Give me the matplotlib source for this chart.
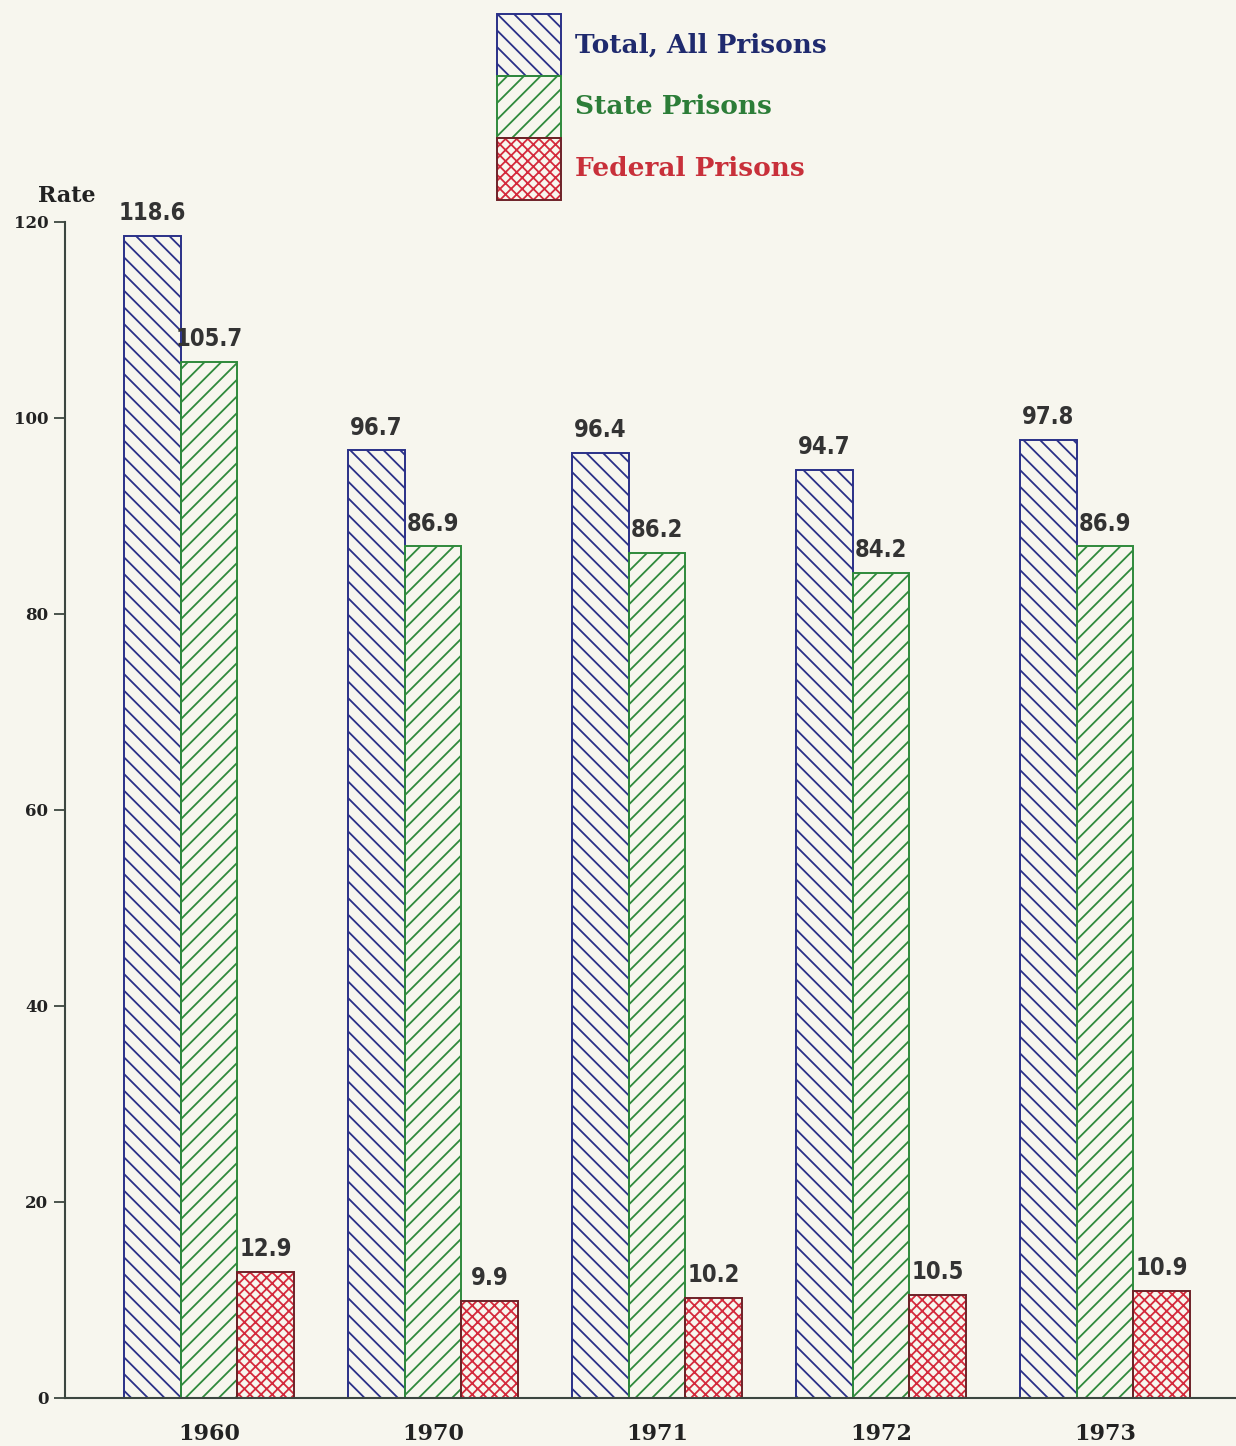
import matplotlib

matplotlib.use("Agg")
import matplotlib.pyplot as plt
from matplotlib.patches import Rectangle
import numpy as np

years = ["1960", "1970", "1971", "1972", "1973"]
total_all = [118.6, 96.7, 96.4, 94.7, 97.8]
state = [105.7, 86.9, 86.2, 84.2, 86.9]
federal = [12.9, 9.9, 10.2, 10.5, 10.9]
yticks = [0, 20, 40, 60, 80, 100, 120]

BG = "#f7f6ee"
BLUE = "#2a3088"
GREEN = "#2f8a3c"
RED = "#d42a3c"
RED_EDGE = "#6e2228"
AXIS = "#3c4640"
LABEL = "#333333"
SERIF = ["DejaVu Serif"]
NARROW = ["DejaVu Sans"]

plt.rcParams["hatch.linewidth"] = 1.3

fig = plt.figure(figsize=(12.36, 14.46), dpi=100, facecolor=BG)
ax = fig.add_axes([65 / 1236, 48 / 1446, 1 - 65 / 1236, (1398 - 222) / 1446])
ax.set_facecolor(BG)

x = np.arange(len(years))
w = 0.254
series = [
    (total_all, -w, BLUE, BLUE, "\\\\"),
    (state, 0, GREEN, GREEN, "//"),
    (federal, w, RED, RED_EDGE, "xxx"),
]
for vals, off, col, edge, hatch in series:
    ax.bar(x + off, vals, w, color="none", edgecolor=col, hatch=hatch, linewidth=0)
    ax.bar(x + off, vals, w, color="none", edgecolor=edge, linewidth=1.4)
    for xi, v in zip(x + off, vals):
        ax.text(xi, v + 1.1, f"{v}", ha="center", va="bottom", fontsize=17,
                family=NARROW, fontstretch="condensed", fontweight="semibold",
                color=LABEL)

ax.set_xlim(-0.643, 4.585)
ax.set_ylim(0, 120)
ax.set_yticks(yticks)
ax.set_yticklabels([str(t) for t in yticks], family=SERIF, fontweight="bold",
                   fontsize=12, color="#222222")
ax.set_xticks(x)
ax.set_xticklabels(years, family=SERIF, fontweight="bold", fontsize=16, color="#222222")
ax.tick_params(axis="x", length=0, pad=18)
ax.tick_params(axis="y", length=8, width=1.3, color=AXIS, pad=4)
for s in ("top", "right"):
    ax.spines[s].set_visible(False)
for s in ("left", "bottom"):
    ax.spines[s].set_color(AXIS)
    ax.spines[s].set_linewidth(1.5)

fig.text(38 / 1236, 1 - 196 / 1446, "Rate", family=SERIF, fontweight="bold",
         fontsize=16, color="#222222", va="center", ha="left")

# legend: stacked swatches
legend = [
    ("Total, All Prisons", BLUE, BLUE, "\\\\", "#1f2a6e"),
    ("State Prisons", GREEN, GREEN, "//", "#2c7d38"),
    ("Federal Prisons", RED, RED_EDGE, "xxx", "#c8303a"),
]
sx, sw, sh = 497 / 1236, 64 / 1236, 62 / 1446
for i, (name, col, edge, hatch, tcol) in enumerate(legend):
    top = 14 + 62 * i
    y0 = 1 - (top + 62) / 1446
    fig.patches.append(Rectangle((sx, y0), sw, sh, transform=fig.transFigure,
                                 facecolor="none", edgecolor=col, hatch=hatch,
                                 linewidth=0))
    fig.patches.append(Rectangle((sx, y0), sw, sh, transform=fig.transFigure,
                                 facecolor="none", edgecolor=edge, linewidth=1.4))
    fig.text(575 / 1236, y0 + sh / 2, name, family=SERIF, fontweight="bold",
             fontsize=19, color=tcol, va="center", ha="left")

fig.savefig("out.png", dpi=100, facecolor=BG)
